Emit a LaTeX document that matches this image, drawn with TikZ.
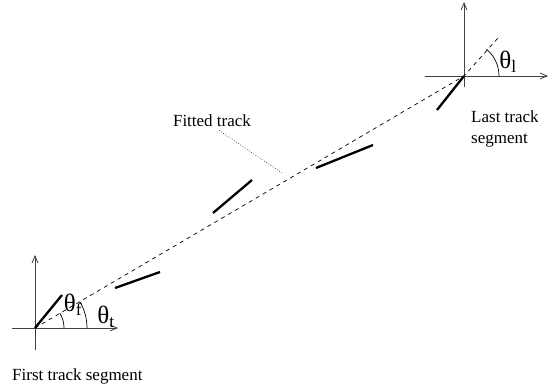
\documentclass[tikz,border=0pt]{standalone}
\usepackage{fontspec}
\setmainfont{Liberation Serif}
\usetikzlibrary{arrows.meta}

\begin{document}
\begin{tikzpicture}[
  x=1pt, y=1pt,
  every node/.style={font=\fontsize{17}{20}\selectfont, inner sep=0pt},
  axis/.style={draw=black!75, line width=0.8pt, -{Straight Barb[length=7pt,width=6pt]}},
  seg/.style={line width=2.3pt},
  fit/.style={dashed, line width=0.7pt, dash pattern=on 4pt off 4pt},
  ang/.style={line width=0.7pt},
  lbl/.style={font=\fontsize{25}{27}\selectfont},
]
\useasboundingbox (0,0) rectangle (548,390);

% ── first track segment ──
\coordinate (o1) at (35,62);
\draw[axis] (12,62) -- (118,62);
\draw[axis] (35,40) -- (35,135);
\draw[seg] (o1) -- (62,95);
\draw[ang] ([shift={(29,0)}]o1) arc[start angle=0, end angle=31, radius=29];
\draw[ang] ([shift={(52,0)}]o1) arc[start angle=0, end angle=30, radius=52];
\node[lbl] (thf) at (73,85) {θ\textsubscript{f}};
\node[lbl] (tht) at (106,73) {θ\textsubscript{t}};
\node[anchor=base west] (first) at (12,9) {First track segment};

% ── last track segment ──
\coordinate (o2) at (464,314);
\draw[axis] (425,314) -- (548,314);
\draw[axis] (464,303) -- (464,388);
\draw[seg] (o2) -- (437,280);
\draw[ang] ([shift={(35,0)}]o2) arc[start angle=0, end angle=50, radius=35];
\node[lbl] (thl) at (508,328) {θ\textsubscript{l}};
\node[anchor=base west] (lasttxt) at (471,267) {Last track};
\node[anchor=base west] (lastseg) at (471,246) {segment};

% ── fitted track and middle segments ──
\coordinate (tip) at (498,352);
\coordinate (trk) at (282,217);
\draw[fit] (o1) -- (o2) -- (tip);
\draw[seg] (115,102) -- (160,118);
\draw[seg] (213,177) -- (252,210);
\draw[seg] (316,222) -- (373,245);

\node[anchor=base] (fitted) at (212,263) {Fitted track};
\draw[dotted, line width=0.6pt] ([xshift=7pt,yshift=-3pt]fitted.south) -- (trk);

\end{tikzpicture}
\end{document}
